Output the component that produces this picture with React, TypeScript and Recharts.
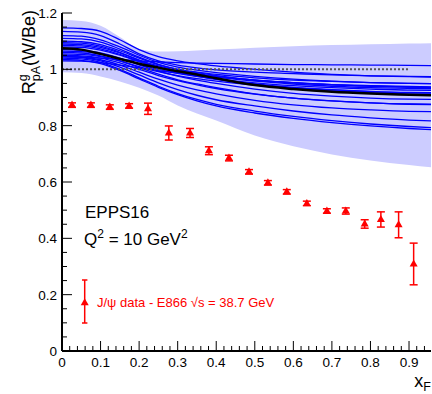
import React from "react";
import {
  ComposedChart,
  Area,
  Line,
  Scatter,
  XAxis,
  YAxis,
  ErrorBar,
  ReferenceLine,
} from "recharts";

const FONT = "'Liberation Sans', Arial, Helvetica, sans-serif";
const X_MAX = 0.957;

// x grid for the EPPS16 curves
const gridX = [0, 0.05, 0.1, 0.15, 0.2, 0.25, 0.3, 0.35, 0.4, 0.5, 0.6, 0.7, 0.8, 0.9, 0.957];

// uncertainty band
const bandHigh = [1.175, 1.172, 1.155, 1.115, 1.072, 1.063, 1.064, 1.067, 1.07, 1.077, 1.082, 1.086, 1.089, 1.092, 1.093];
const bandLow = [0.99, 0.987, 0.975, 0.957, 0.935, 0.907, 0.872, 0.843, 0.818, 0.765, 0.727, 0.698, 0.676, 0.66, 0.652];

// central fit
const central = [1.075, 1.07, 1.055, 1.037, 1.02, 1.006, 0.993, 0.982, 0.968, 0.944, 0.93, 0.92, 0.914, 0.91, 0.908];

// error sets
const set01 = [1.147, 1.145, 1.135, 1.105, 1.07, 1.045, 1.03, 1.02, 1.012, 1.0, 0.99, 0.982, 0.977, 0.974, 0.972];
const set02 = [1.135, 1.132, 1.12, 1.09, 1.055, 1.03, 1.015, 1.005, 0.998, 0.99, 0.985, 0.98, 0.977, 0.975, 0.974];
const set03 = [1.12, 1.118, 1.105, 1.08, 1.05, 1.025, 1.008, 0.997, 0.988, 0.975, 0.965, 0.958, 0.953, 0.95, 0.949];
const set04 = [1.11, 1.108, 1.097, 1.072, 1.043, 1.018, 1.0, 0.988, 0.978, 0.962, 0.952, 0.945, 0.94, 0.937, 0.936];
const set05 = [1.1, 1.098, 1.088, 1.066, 1.04, 1.017, 1.0, 0.99, 0.982, 0.97, 0.962, 0.957, 0.953, 0.95, 0.949];
const set06 = [1.095, 1.093, 1.082, 1.06, 1.032, 1.008, 0.99, 0.977, 0.966, 0.948, 0.936, 0.928, 0.922, 0.918, 0.917];
const set07 = [1.09, 1.088, 1.078, 1.058, 1.033, 1.012, 0.996, 0.985, 0.976, 0.962, 0.953, 0.946, 0.942, 0.939, 0.938];
const set08 = [1.085, 1.083, 1.073, 1.053, 1.028, 1.005, 0.988, 0.975, 0.964, 0.945, 0.932, 0.923, 0.917, 0.913, 0.912];
const set09 = [1.08, 1.078, 1.068, 1.05, 1.027, 1.007, 0.992, 0.981, 0.972, 0.958, 0.948, 0.94, 0.935, 0.932, 0.931];
const set10 = [1.07, 1.068, 1.058, 1.04, 1.016, 0.994, 0.976, 0.962, 0.95, 0.93, 0.915, 0.905, 0.898, 0.894, 0.893];
const set11 = [1.065, 1.063, 1.054, 1.038, 1.018, 1.0, 0.986, 0.975, 0.966, 0.952, 0.942, 0.935, 0.93, 0.926, 0.925];
const set12 = [1.06, 1.058, 1.048, 1.03, 1.006, 0.983, 0.963, 0.948, 0.935, 0.913, 0.898, 0.888, 0.881, 0.877, 0.876];
const set13 = [1.055, 1.053, 1.045, 1.03, 1.01, 0.992, 0.978, 0.967, 0.958, 0.944, 0.934, 0.927, 0.921, 0.917, 0.916];
const set14 = [1.05, 1.048, 1.04, 1.023, 1.0, 0.978, 0.96, 0.945, 0.932, 0.912, 0.898, 0.888, 0.881, 0.876, 0.875];
const set15 = [1.045, 1.043, 1.034, 1.015, 0.99, 0.965, 0.944, 0.927, 0.913, 0.89, 0.874, 0.863, 0.856, 0.851, 0.85];
const set16 = [1.045, 1.042, 1.03, 1.008, 0.98, 0.952, 0.928, 0.908, 0.892, 0.87, 0.852, 0.838, 0.828, 0.82, 0.817];
const set17 = [1.04, 1.037, 1.025, 1.0, 0.97, 0.94, 0.914, 0.893, 0.876, 0.852, 0.833, 0.818, 0.806, 0.797, 0.793];
const set18 = [1.035, 1.032, 1.02, 0.996, 0.966, 0.936, 0.91, 0.888, 0.87, 0.845, 0.826, 0.811, 0.799, 0.79, 0.786];
const set19 = [1.03, 1.029, 1.024, 1.015, 1.005, 0.995, 0.987, 0.98, 0.974, 0.962, 0.953, 0.946, 0.941, 0.937, 0.936];
const set20 = [1.045, 1.044, 1.04, 1.035, 1.03, 1.027, 1.024, 1.022, 1.021, 1.019, 1.017, 1.016, 1.015, 1.014, 1.013];
const errorSets = [set01, set02, set03, set04, set05, set06, set07, set08, set09, set10,
  set11, set12, set13, set14, set15, set16, set17, set18, set19, set20];

// E866 J/psi data
const dataX = [0.026, 0.075, 0.124, 0.174, 0.223, 0.277, 0.332, 0.381, 0.433, 0.485, 0.534, 0.583, 0.635, 0.687, 0.736, 0.785, 0.827, 0.873, 0.912];
const dataY = [0.873, 0.873, 0.866, 0.87, 0.86, 0.774, 0.774, 0.711, 0.685, 0.636, 0.597, 0.565, 0.524, 0.497, 0.497, 0.451, 0.467, 0.448, 0.309];
const dataErr = [0.008, 0.008, 0.008, 0.008, 0.02, 0.025, 0.016, 0.014, 0.01, 0.008, 0.008, 0.008, 0.008, 0.008, 0.011, 0.015, 0.027, 0.046, 0.074];

const xTicks = Array.from({ length: 48 }, (_, i) => +(i * 0.02).toFixed(2));
const yTicks = Array.from({ length: 25 }, (_, i) => +(i * 0.05).toFixed(2));

const table = gridX.map((x, i) => {
  const row: any = { x, band: [bandLow[i], bandHigh[i]], c: central[i] };
  errorSets.forEach((s, k) => (row[`s${k}`] = s[i]));
  return row;
});
const points = dataX.map((x, i) => ({ x, y: dataY[i], err: dataErr[i] }));

const isMajor = (v: number, step: number) => Math.abs(v / step - Math.round(v / step)) < 1e-6;
const fmt = (v: number) => (v === 0 ? "0" : String(+v.toFixed(1)));

function BottomTick({ x, y, payload }: any) {
  const major = isMajor(payload.value, 0.1);
  return (
    <g>
      <line x1={x} x2={x} y1={y} y2={y - (major ? 10 : 5)} stroke="#000" />
      {major && (
        <text x={x} y={y + 16} textAnchor="middle" fontSize={13.5} fontFamily={FONT} fill="#000">
          {fmt(payload.value)}
        </text>
      )}
    </g>
  );
}

function TopTick({ x, y, payload }: any) {
  const major = isMajor(payload.value, 0.1);
  return <line x1={x} x2={x} y1={y} y2={y + (major ? 8 : 4)} stroke="#000" />;
}

function LeftTick({ x, y, payload }: any) {
  const major = isMajor(payload.value, 0.2);
  return (
    <g>
      <line x1={x} x2={x + (major ? 10 : 5)} y1={y} y2={y} stroke="#000" />
      {major && (
        <text x={x - 5} y={y + 5} textAnchor="end" fontSize={13.5} fontFamily={FONT} fill="#000">
          {fmt(payload.value)}
        </text>
      )}
    </g>
  );
}

function RightTick({ x, y, payload }: any) {
  const major = isMajor(payload.value, 0.2);
  return <line x1={x} x2={x - (major ? 8 : 4)} y1={y} y2={y} stroke="#000" />;
}

function Triangle({ cx, cy }: any) {
  return <path d={`M${cx},${cy - 4.5} L${cx + 4},${cy + 2.5} L${cx - 4},${cy + 2.5} Z`} fill="#ff0000" />;
}

export default function App() {
  return (
    <div style={{ position: "absolute", left: 0, top: 0, width: 432, height: 394, background: "#fff" }}>
      <ComposedChart
        width={432}
        height={394}
        data={table}
        margin={{ top: 13, right: 1, bottom: 0, left: 0 }}
      >
        <XAxis
          xAxisId="b"
          dataKey="x"
          type="number"
          domain={[0, X_MAX]}
          allowDataOverflow
          ticks={xTicks}
          interval={0}
          tickSize={0}
          tickMargin={0}
          tickLine={false}
          height={43}
          axisLine={{ stroke: "#000", strokeWidth: 2 }}
          tick={(p: any) => <BottomTick {...p} />}
        />
        <XAxis
          xAxisId="t"
          dataKey="x"
          type="number"
          orientation="top"
          domain={[0, X_MAX]}
          allowDataOverflow
          ticks={xTicks}
          interval={0}
          tickSize={0}
          tickMargin={0}
          tickLine={false}
          height={0}
          axisLine={{ stroke: "#000", strokeWidth: 1 }}
          tick={(p: any) => <TopTick {...p} />}
        />
        <YAxis
          yAxisId="l"
          type="number"
          domain={[0, 1.2]}
          allowDataOverflow
          ticks={yTicks}
          interval={0}
          tickSize={0}
          tickMargin={0}
          tickLine={false}
          width={62}
          axisLine={{ stroke: "#000", strokeWidth: 2 }}
          tick={(p: any) => <LeftTick {...p} />}
        />
        <YAxis
          yAxisId="r"
          type="number"
          orientation="right"
          domain={[0, 1.2]}
          allowDataOverflow
          ticks={yTicks}
          interval={0}
          tickSize={0}
          tickMargin={0}
          tickLine={false}
          width={0}
          axisLine={{ stroke: "#000", strokeWidth: 1 }}
          tick={(p: any) => <RightTick {...p} />}
        />
        <Area
          xAxisId="b"
          yAxisId="l"
          dataKey="band"
          type="monotone"
          fill="#ccccff"
          fillOpacity={1}
          stroke="none"
          isAnimationActive={false}
        />
        {errorSets.map((_, k) => (
          <Line
            key={k}
            xAxisId="b"
            yAxisId="l"
            dataKey={`s${k}`}
            type="monotone"
            stroke="#0000ff"
            strokeWidth={1.3}
            dot={false}
            isAnimationActive={false}
          />
        ))}
        <ReferenceLine
          xAxisId="b"
          yAxisId="l"
          segment={[{ x: 0, y: 1 }, { x: 0.9, y: 1 }]}
          stroke="#555"
          strokeWidth={2}
          strokeDasharray="2 2"
        />
        <Line
          xAxisId="b"
          yAxisId="l"
          dataKey="c"
          type="monotone"
          stroke="#000"
          strokeWidth={2.5}
          dot={false}
          isAnimationActive={false}
        />
        <Line
          xAxisId="t"
          yAxisId="r"
          dataKey="c"
          stroke="none"
          dot={false}
          legendType="none"
          isAnimationActive={false}
        />
        <Scatter
          xAxisId="b"
          yAxisId="l"
          data={points}
          dataKey="y"
          shape={(p: any) => <Triangle {...p} />}
          isAnimationActive={false}
        >
          <ErrorBar dataKey="err" direction="y" width={4} stroke="#ff0000" strokeWidth={1.5} />
        </Scatter>
      </ComposedChart>
      <svg
        width={432}
        height={394}
        style={{ position: "absolute", left: 0, top: 0, pointerEvents: "none" }}
        fontFamily={FONT}
      >
        <text transform="translate(35,10) rotate(-90)" textAnchor="end" fontSize={18} fill="#000">
          R<tspan fontSize={12.5} dy={-8}>g</tspan>
          <tspan fontSize={12.5} dx={-7} dy={13}>pA</tspan>
          <tspan dy={-5}>(W/Be)</tspan>
        </text>
        <text x={431} y={387} textAnchor="end" fontSize={18} fill="#000">
          x<tspan fontSize={12.5} dy={4}>F</tspan>
        </text>
        <text x={85} y={218} fontSize={17} fill="#000">EPPS16</text>
        <text x={84} y={245} fontSize={17} fill="#000">
          Q<tspan fontSize={12} dy={-7}>2</tspan>
          <tspan dy={7}> = 10 GeV</tspan>
          <tspan fontSize={12} dy={-7}>2</tspan>
        </text>
        <line x1={84.7} x2={84.7} y1={280} y2={323} stroke="#ff0000" strokeWidth={1.5} />
        <line x1={82} x2={87.4} y1={280} y2={280} stroke="#ff0000" strokeWidth={1.5} />
        <line x1={82} x2={87.4} y1={323} y2={323} stroke="#ff0000" strokeWidth={1.5} />
        <Triangle cx={84.7} cy={302.7} />
        <text x={97} y={307} fontSize={13} fill="#ff0000">
          J/ψ data - E866 √s = 38.7 GeV
        </text>
      </svg>
    </div>
  );
}
